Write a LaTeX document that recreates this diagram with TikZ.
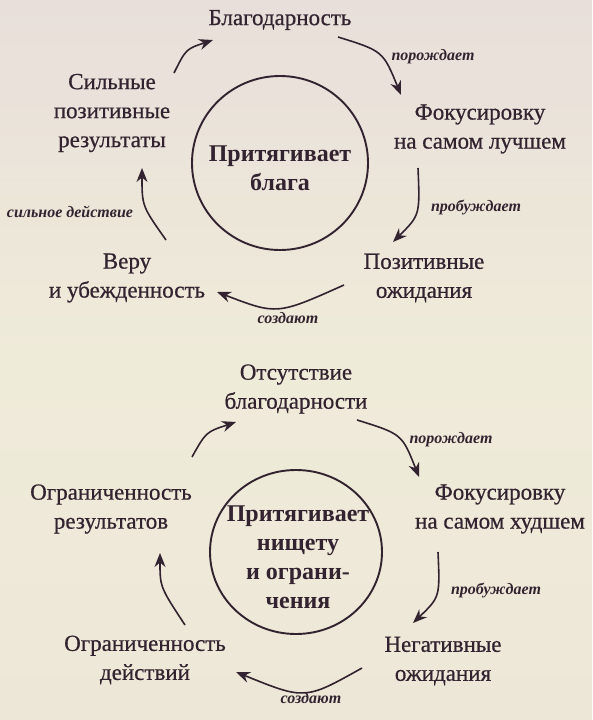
\documentclass[tikz,border=0pt]{standalone}
\usepackage{fontspec}
\setmainfont{Liberation Serif}
\newfontfamily\heavyserif[FakeBold=0.6]{Liberation Serif}
\usetikzlibrary{arrows.meta}
\definecolor{ink}{HTML}{33222F}
\definecolor{bgtop}{HTML}{E8DFDA}
\definecolor{bgmid}{HTML}{EFEBD9}
\definecolor{bgbot}{HTML}{EDE7D7}
\tikzset{
  lbl/.style={align=center, font=\heavyserif\fontsize{23}{29}\selectfont, text=ink, inner sep=0pt},
  ital/.style={font=\fontsize{16}{18}\selectfont\bfseries\itshape, text=ink, inner sep=0pt},
  core/.style={align=center, font=\fontsize{24}{29}\selectfont\bfseries, text=ink},
  ring/.style={draw=ink, line width=1.9pt},
  arr/.style={draw=ink, line width=1.6pt, -{Stealth[length=14pt,width=11pt]}}
}
\begin{document}
\begin{tikzpicture}[x=1pt,y=-1pt]
\fill[top color=bgtop, bottom color=bgbot, middle color=bgmid] (0,0) rectangle (592,720);
\useasboundingbox (0,0) rectangle (592,720);

% ---------- top cycle ----------
\draw[ring] (280,163) ellipse [x radius=88, y radius=87];
\node[core] (tc) at (280,168) {Притягивает\\блага};
\node[lbl] (t1) at (280,20) {Благодарность};
\node[lbl] (t2) at (480,129) {Фокусировку\\на самом лучшем};
\node[lbl] (t3) at (424,278) {Позитивные\\ожидания};
\node[lbl] (t4) at (127,278) {Веру\\и убежденность};
\node[lbl] (t5) at (112,113) {Сильные\\позитивные\\результаты};
\node[ital] (l1) at (433,57) {порождает};
\node[ital] (l2) at (476,207) {пробуждает};
\node[ital] (l3) at (288,318) {создают};
\node[ital] (l4) at (70,212) {сильное действие};

\coordinate (a1s) at (338,37);  \coordinate (a1c) at (383,51);  \coordinate (a1e) at (401,95);
\coordinate (a2s) at (418,168); \coordinate (a2c) at (420,215); \coordinate (a2e) at (393,242);
\coordinate (a3s) at (344,285); \coordinate (a3c) at (277,315); \coordinate (a3e) at (217,292);
\coordinate (a4s) at (166,240); \coordinate (a4c) at (142,206); \coordinate (a4e) at (142,168);
\coordinate (a5s) at (174,73);  \coordinate (a5c) at (186,49);  \coordinate (a5e) at (213,40);
\draw[arr] (a1s) .. controls (a1c) .. (a1e);
\draw[arr] (a2s) .. controls (a2c) .. (a2e);
\draw[arr] (a3s) .. controls (a3c) .. (a3e);
\draw[arr] (a4s) .. controls (a4c) .. (a4e);
\draw[arr] (a5s) .. controls (a5c) .. (a5e);

% ---------- bottom cycle ----------
\draw[ring] (296,552) ellipse [x radius=86, y radius=82];
\node[core] (bc) at (298,557) {Притягивает\\нищету\\и ограни-\\чения};
\node[lbl] (b1) at (296,389) {Отсутствие\\благодарности};
\node[lbl] (b2) at (500,509) {Фокусировку\\на самом худшем};
\node[lbl] (b3) at (443,661) {Негативные\\ожидания};
\node[lbl] (b4) at (145,660) {Ограниченность\\действий};
\node[lbl] (b5) at (111,509) {Ограниченность\\результатов};
\node[ital] (m1) at (451,440) {порождает};
\node[ital] (m2) at (496,590) {пробуждает};
\node[ital] (m3) at (311,698) {создают};

\coordinate (c1s) at (357,420); \coordinate (c1c) at (402,434); \coordinate (c1e) at (419,477);
\coordinate (c2s) at (438,552); \coordinate (c2c) at (440,597); \coordinate (c2e) at (413,623);
\coordinate (c3s) at (362,668); \coordinate (c3c) at (305,700); \coordinate (c3e) at (236,672);
\coordinate (c4s) at (185,625); \coordinate (c4c) at (160,587); \coordinate (c4e) at (160,553);
\coordinate (c5s) at (192,457); \coordinate (c5c) at (206,432); \coordinate (c5e) at (236,422);
\draw[arr] (c1s) .. controls (c1c) .. (c1e);
\draw[arr] (c2s) .. controls (c2c) .. (c2e);
\draw[arr] (c3s) .. controls (c3c) .. (c3e);
\draw[arr] (c4s) .. controls (c4c) .. (c4e);
\draw[arr] (c5s) .. controls (c5c) .. (c5e);
\end{tikzpicture}
\end{document}
